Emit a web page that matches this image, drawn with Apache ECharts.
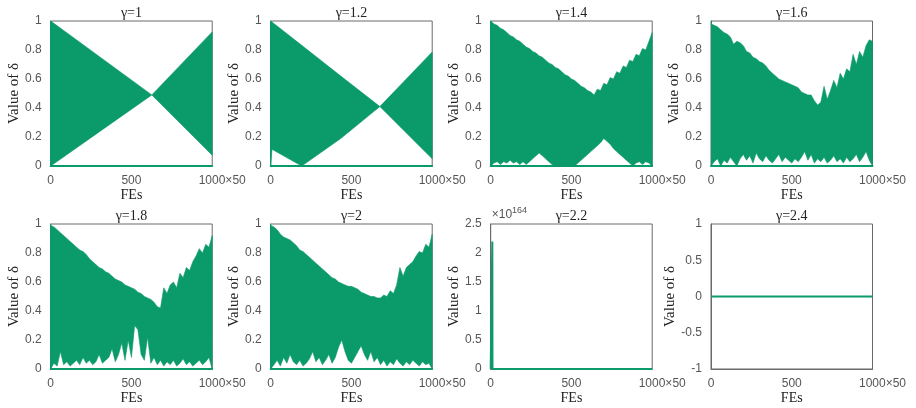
<!DOCTYPE html>
<html><head><meta charset="utf-8">
<script src="https://cdn.jsdelivr.net/npm/echarts@6/dist/echarts.min.js"></script>
<style>html,body{margin:0;padding:0;background:#fff}#c{width:916px;height:408px}</style>
</head><body><div id="c"></div>
<script>
// ---------- data ----------
const titles = ['γ=1','γ=1.2','γ=1.4','γ=1.6','γ=1.8','γ=2','γ=2.2','γ=2.4'];
const xTickLabels = ['0','500','1000'];

// γ=1 : envelope (upper / lower) of δ
const fe1 = [0, 626, 1000];
const up1 = [1.00, 0.49, 0.925];
const lo1 = [0.00, 0.49, 0.075];

// γ=1.2
const fe12 = [0, 8, 192, 434, 676, 1000];
const up12 = [1.00, 0.993, 0.832, 0.62, 0.41, 0.786];
const lo12 = [0.00, 0.115, 0.00, 0.19, 0.41, 0.05];

// common FE sample positions for the dense panels
const fe20 = [0,20,40,60,80,100,120,140,160,180,200,220,240,260,280,300,320,340,360,380,400,
  420,440,460,480,500,520,540,560,580,600,620,640,660,680,700,720,740,760,780,800,
  820,840,860,880,900,920,940,960,980,1000];

// γ=1.4
const up14 = [1.00,0.98,0.97,0.95,0.94,0.92,0.90,0.89,0.87,0.86,0.84,0.82,0.81,0.79,0.78,0.76,0.75,0.73,0.71,0.70,0.68,
  0.67,0.65,0.63,0.62,0.60,0.59,0.57,0.55,0.54,0.52,0.51,0.49,0.53,0.52,0.57,0.56,0.61,0.60,0.65,0.64,
  0.69,0.68,0.73,0.72,0.77,0.76,0.81,0.80,0.86,0.92];
const lo14 = [0.00,0.02,0.03,0.01,0.03,0.02,0.04,0.02,0.03,0.01,0.03,0.01,0.03,0.05,0.07,0.09,0.07,0.05,0.03,0.01,0.00,
  0.00,0.00,0.00,0.00,0.00,0.00,0.02,0.04,0.06,0.08,0.10,0.12,0.14,0.16,0.19,0.17,0.15,0.12,0.10,0.08,
  0.06,0.04,0.02,0.00,0.02,0.03,0.01,0.03,0.02,0.00];

// γ=1.6
const up16 = [0.98,0.97,0.96,0.94,0.92,0.91,0.89,0.84,0.86,0.85,0.83,0.79,0.78,0.75,0.74,0.72,0.71,0.69,0.66,0.64,0.62,
  0.60,0.59,0.58,0.57,0.56,0.55,0.54,0.51,0.50,0.49,0.49,0.45,0.42,0.44,0.55,0.46,0.52,0.59,0.54,0.64,
  0.60,0.67,0.65,0.77,0.70,0.79,0.75,0.83,0.87,0.86];
const lo16 = [0.00,0.03,0.05,0.00,0.04,0.02,0.06,0.03,0.00,0.05,0.08,0.04,0.07,0.02,0.09,0.05,0.03,0.07,0.04,0.02,0.05,
  0.08,0.03,0.06,0.04,0.02,0.05,0.03,0.06,0.10,0.04,0.08,0.02,0.05,0.03,0.06,0.02,0.04,0.07,0.03,0.05,
  0.02,0.06,0.03,0.05,0.08,0.03,0.06,0.10,0.04,0.00];

// γ=1.8
const up18 = [0.99,0.98,0.96,0.94,0.92,0.90,0.88,0.86,0.84,0.82,0.81,0.79,0.76,0.74,0.72,0.70,0.69,0.67,0.66,0.64,0.62,
  0.61,0.60,0.58,0.57,0.56,0.55,0.53,0.52,0.50,0.49,0.48,0.46,0.43,0.42,0.56,0.52,0.58,0.60,0.56,0.66,
  0.63,0.70,0.68,0.74,0.78,0.83,0.80,0.86,0.84,0.92];
const lo18 = [0.00,0.04,0.02,0.12,0.03,0.05,0.02,0.04,0.06,0.03,0.08,0.04,0.06,0.03,0.05,0.10,0.04,0.06,0.08,0.14,0.05,
  0.10,0.18,0.06,0.20,0.08,0.30,0.27,0.10,0.06,0.22,0.04,0.08,0.03,0.06,0.02,0.05,0.03,0.06,0.02,0.04,
  0.07,0.03,0.05,0.02,0.04,0.06,0.03,0.05,0.08,0.00];

// γ=2
const up20 = [0.99,0.98,0.96,0.93,0.91,0.90,0.89,0.87,0.85,0.82,0.81,0.79,0.77,0.75,0.73,0.71,0.69,0.67,0.65,0.63,0.62,
  0.60,0.59,0.58,0.57,0.57,0.56,0.55,0.53,0.52,0.51,0.50,0.50,0.49,0.49,0.51,0.50,0.54,0.52,0.58,0.70,
  0.64,0.70,0.72,0.74,0.78,0.81,0.80,0.86,0.84,0.93];
const lo20 = [0.00,0.03,0.06,0.02,0.08,0.04,0.10,0.05,0.03,0.06,0.02,0.04,0.07,0.12,0.05,0.08,0.03,0.06,0.10,0.04,0.08,
  0.15,0.20,0.12,0.06,0.04,0.08,0.12,0.16,0.10,0.06,0.12,0.05,0.08,0.03,0.06,0.02,0.05,0.03,0.07,0.04,
  0.02,0.05,0.03,0.06,0.04,0.02,0.05,0.03,0.04,0.00];

// γ=2.2 (values in units of 10^164)
const fe22 = [0, 9, 10, 11, 1000];
const v22  = [0, 0, 2.2, 0, 0];

// γ=2.4
const fe24 = [0, 1000];
const v24  = [0, 0];

// ---------- chart ----------
const G = '#0b9a69';
const lefts = [50.7, 270.7, 490.7, 711];
const tops = [21, 224];
const W = 161.5, H = 145;

const bands = [
  [fe1, up1, lo1], [fe12, up12, lo12], [fe20, up14, lo14],
  [fe20, up16, lo16], [fe20, up18, lo18], [fe20, up20, lo20]
];
const yRanges = [[0,1,0.2],[0,1,0.2],[0,1,0.2],[0,1,0.2],[0,1,0.2],[0,1,0.2],[0,2.5,0.5],[-1,1,0.5]];

const grid = [], xAxis = [], yAxis = [], series = [], graphic = [];
const tickStyle = {fontFamily:'Liberation Sans, Arial, sans-serif', fontSize:12, color:'#555'};
const serif = 'Liberation Serif, Times New Roman, serif';

for (let i = 0; i < 8; i++) {
  const l = lefts[i % 4], t = tops[Math.floor(i / 4)];
  grid.push({left:l, top:t, width:W, height:H, show:true, borderColor:'#6a6a6a', borderWidth:1, backgroundColor:'transparent'});
  xAxis.push({
    type:'value', gridIndex:i, min:0, max:1000, interval:500,
    axisLine:{show:true, onZero:false, lineStyle:{color: i < 6 ? G : '#6a6a6a', width: i < 6 ? 2 : 1}},
    axisTick:{show:false}, splitLine:{show:false},
    axisLabel:Object.assign({margin:9, formatter:(v)=>{
      const k = [0,500,1000].indexOf(v);
      const s = k >= 0 ? xTickLabels[k] : '';
      return v === 1000 ? '{p|}' + s + '×50' : s;
    }, rich:{p:{width:20}}}, tickStyle),
    name:'FEs', nameLocation:'middle', nameGap:21,
    nameTextStyle:{fontFamily:serif, fontSize:14, color:'#222'}
  });
  const yr = yRanges[i];
  yAxis.push({
    type:'value', gridIndex:i, min:yr[0], max:yr[1], interval:yr[2],
    axisLine:{show:true, onZero:false, lineStyle:{color: i < 6 ? G : '#6a6a6a', width:1}},
    axisTick:{show:false}, splitLine:{show:false},
    axisLabel:Object.assign({margin:9}, tickStyle),
    name:'Value of δ', nameLocation:'middle', nameGap:28,
    nameTextStyle:{fontFamily:serif, fontSize:15, color:'#222'}
  });
  graphic.push({type:'text', x:l + W/2, y:t - 8,
    style:{text:titles[i], font:'14px ' + serif, fill:'#222', textAlign:'center', textVerticalAlign:'middle'}, silent:true});
}

// band between lower and upper envelope: one polygon per panel, mapped through the axes' coord()
bands.forEach((b, i) => {
  const [fe, up, lo] = b;
  const pts = fe.map((x,k)=>[x, up[k], lo[k]]);
  series.push({type:'custom', xAxisIndex:i, yAxisIndex:i, silent:true, clip:true,
    encode:{x:0, y:[1,2]}, data:pts,
    renderItem:(params, api) => {
      if (params.dataIndex !== 0) return null;
      const top = pts.map(p => api.coord([p[0], p[1]]));
      const bot = pts.slice().reverse().map(p => api.coord([p[0], p[2]]));
      return {type:'polygon', shape:{points: top.concat(bot)}, style:{fill:G, stroke:G, lineWidth:0.6}};
    }});
});
series.push({type:'line', xAxisIndex:6, yAxisIndex:6, symbol:'none', silent:true,
  data: fe22.map((x,k)=>[x, v22[k]]), lineStyle:{width:2, color:G}});
series.push({type:'line', xAxisIndex:7, yAxisIndex:7, symbol:'none', silent:true,
  data: fe24.map((x,k)=>[x, v24[k]]), lineStyle:{width:2, color:G}});

graphic.push({type:'text', x:lefts[2] + 1, y:tops[1] - 9, silent:true,
  style:{text:'×10{s|164}', font:'12px Liberation Sans, Arial, sans-serif', fill:'#555', textVerticalAlign:'middle',
    rich:{s:{fontSize:9, verticalAlign:'top', padding:[0,0,8,0], fill:'#555'}}}});

const chart = echarts.init(document.getElementById('c'), null, {renderer:'canvas'});
chart.setOption({animation:false, backgroundColor:'#fff', grid, xAxis, yAxis, series, graphic});
</script></body></html>
